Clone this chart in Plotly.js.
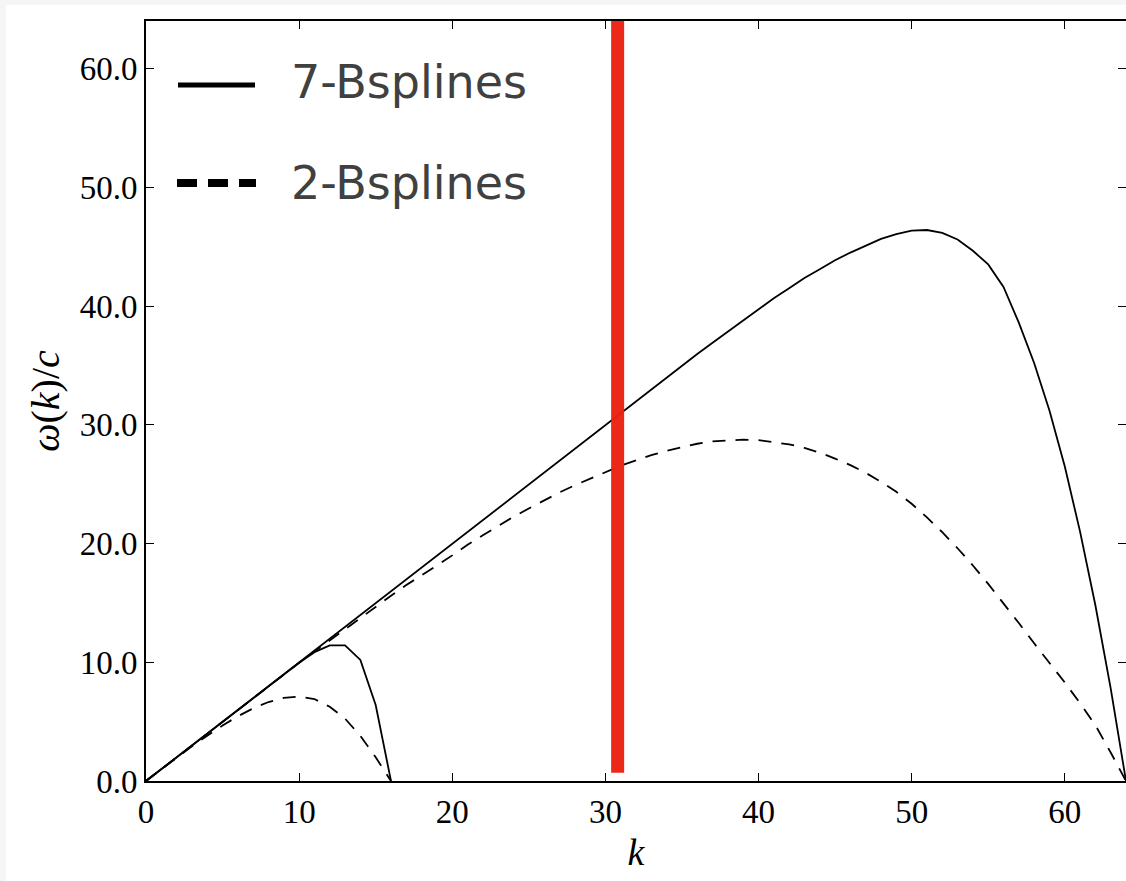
<!DOCTYPE html>
<html><head><meta charset="utf-8">
<script src="https://cdn.plot.ly/plotly-3.0.1.min.js"></script>
<style>html,body{margin:0;padding:0;background:#fff;overflow:hidden;} #chart{width:1126px;height:881px;}</style>
</head><body><div id="chart"></div>
<script>
// ---- data ----
const k16 = [0,1,2,3,4,5,6,7,8,9,10,11,12,13,14,15,16];
const bspline7_16 = [0,1,2,3,4,5,6,7,8,9,9.95,10.85,11.42,11.42,10.2,6.4,0];
const bspline2_16 = [0,1,1.98,2.93,3.82,4.68,5.45,6.12,6.65,7.0,7.1,6.9,6.25,5.25,3.8,2.0,0];

const k64 = [0,1,2,3,4,5,6,7,8,9,10,11,12,13,14,15,16,17,18,19,20,21,22,23,24,25,26,27,28,29,30,31,32,
  33,34,35,36,37,38,39,40,41,42,43,44,45,46,47,48,49,50,51,52,53,54,55,56,57,58,59,60,61,62,63,64];
const bspline7_64 = [0,1,2,3,4,5,6,7,8,9,10,11,12,13,14,15,16,17,18,19,20,21,22,23,24,25,26,27,28,29,30,31,32,
  33,34,35,35.95,36.9,37.85,38.8,39.75,40.65,41.5,42.35,43.1,43.85,44.5,45.1,45.65,46.05,46.35,46.4,46.15,45.6,44.65,43.5,
  41.6,38.6,35.2,31.2,26.5,21.0,14.8,7.8,0];
const bspline2_64 = [0,1,2,3,4,5,6,7,7.95,8.95,9.95,10.9,11.85,12.8,13.75,14.7,15.6,16.5,17.3,18.15,19.0,19.9,20.7,21.5,22.25,
  22.95,23.65,24.3,24.9,25.45,26.0,26.55,27.0,27.45,27.8,28.1,28.4,28.6,28.7,28.75,28.7,28.55,28.35,28.05,27.65,27.15,26.6,
  25.95,25.2,24.35,23.35,22.2,20.95,19.6,18.15,16.6,15.0,13.3,11.6,10.0,8.3,6.55,4.7,2.4,0];

const redMarkK = [30.8, 30.8];
const redMarkW = [0.7, 64.5];
const arrowK = [30.96];
const arrowW = [65.7];

const xTicks = [0,10,20,30,40,50,60];
const xTickText = ['0','10','20','30','40','50','60'];
const yTicks = [0,10,20,30,40,50,60];
const yTickText = ['0.0','10.0','20.0','30.0','40.0','50.0','60.0'];
const legendNames = ['7-Bsplines','2-Bsplines'];

// ---- plot ----
const serif = 'Liberation Serif, Times New Roman, serif';
const lineW = 1.8;
const traces = [
  {x:k64, y:bspline7_64, mode:'lines', line:{color:'#000', width:lineW}, name:legendNames[0]},
  {x:k64, y:bspline2_64, mode:'lines', line:{color:'#000', width:lineW, dash:'13px,10px'}, name:legendNames[1]},
  {x:k16, y:bspline7_16, mode:'lines', line:{color:'#000', width:lineW}},
  {x:k16, y:bspline2_16, mode:'lines', line:{color:'#000', width:lineW, dash:'13px,10px'}},
  {x:redMarkK, y:redMarkW, mode:'lines', line:{color:'#ec2212', width:13}, opacity:0.97},
  {x:arrowK, y:arrowW, mode:'markers', marker:{symbol:'triangle-down', size:9, color:'#000'}, cliponaxis:false}
];

const PW = 980, PH = 760, L = 146, T = 21;
function px(x){ return (x - L)/PW; }
function py(y){ return (T + PH - y)/PH; }

const axisCommon = {
  range:[0,64], ticks:'inside', ticklen:8, tickwidth:1, tickcolor:'#000',
  showline:true, linewidth:2, linecolor:'#000', mirror:'allticks',
  showgrid:false, zeroline:false, fixedrange:true,
  tickfont:{family:serif, size:33, color:'#000'}
};

const layout = {
  width:1126, height:881,
  margin:{l:L, r:0, t:T, b:100, pad:0},
  paper_bgcolor:'#ffffff', plot_bgcolor:'#ffffff',
  showlegend:false,
  xaxis: Object.assign({}, axisCommon, {
    tickmode:'array', tickvals:xTicks, ticktext:xTickText,
    title:{text:'<i>k</i>', font:{family:serif, size:38, color:'#000'}, standoff:10}
  }),
  yaxis: Object.assign({}, axisCommon, {
    tickmode:'array', tickvals:yTicks, ticktext:yTickText,
    title:{text:'<i>ω</i>(<i>k</i>)/<i>c</i>', font:{family:serif, size:40, color:'#000'}, standoff:8}
  }),
  shapes:[
    {type:'rect', xref:'paper', yref:'paper', x0:px(0), x1:px(6), y0:py(881), y1:py(0), fillcolor:'#f5f5f5', line:{width:0}, layer:'below'},
    {type:'rect', xref:'paper', yref:'paper', x0:px(0), x1:px(1126), y0:py(5), y1:py(0), fillcolor:'#f5f5f5', line:{width:0}, layer:'below'},
    {type:'line', xref:'paper', yref:'paper', x0:px(178), x1:px(255), y0:py(85), y1:py(85), line:{color:'#000', width:5}},
    {type:'line', xref:'paper', yref:'paper', x0:px(177), x1:px(256), y0:py(183), y1:py(183), line:{color:'#000', width:8, dash:'20px,11px'}}
  ],
  annotations:[
    {xref:'paper', yref:'paper', x:px(289), y:py(82), xanchor:'left', yanchor:'middle', showarrow:false,
     text:legendNames[0], font:{family:'DejaVu Sans, sans-serif', size:46, color:'#404040'}},
    {xref:'paper', yref:'paper', x:px(289), y:py(183), xanchor:'left', yanchor:'middle', showarrow:false,
     text:legendNames[1], font:{family:'DejaVu Sans, sans-serif', size:46, color:'#404040'}}
  ]
};

Plotly.newPlot('chart', traces, layout, {staticPlot:true, displayModeBar:false});
</script>
</body></html>
